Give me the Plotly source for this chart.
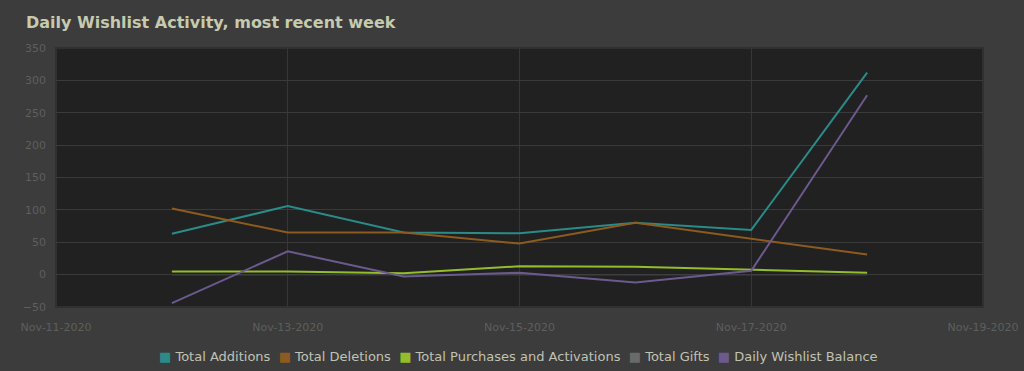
import plotly.graph_objects as go

dates = ["2020-11-12", "2020-11-13", "2020-11-14", "2020-11-15", "2020-11-16", "2020-11-17", "2020-11-18"]
additions = [63, 106, 65, 64, 80, 69, 312]
deletions = [102, 65, 65, 48, 80, 56, 31]
purchases = [5, 5, 2, 13, 12, 8, 3]
gifts = [0, 0, 0, 0, 0, 0, 0]
balance = [-44, 36, -3, 3, -12, 6, 277]

series = [
    ("Total Gifts", gifts, "#6a6a6a", "#3e3e3e", 1.5),
    ("Total Additions", additions, "#2a8b88", "#2a8b88", 2),
    ("Total Deletions", deletions, "#8d5a1f", "#8d5a1f", 2),
    ("Total Purchases and Activations", purchases, "#94bd2b", "#94bd2b", 2),
    ("Daily Wishlist Balance", balance, "#6c5a8e", "#6c5a8e", 2),
]
legend_order = ["Total Additions", "Total Deletions", "Total Purchases and Activations",
                "Total Gifts", "Daily Wishlist Balance"]

fig = go.Figure()
for name, vals, col, lcol, w in series:
    fig.add_trace(go.Scatter(x=dates, y=vals, mode="lines", name=name,
                             line=dict(color=lcol, width=w), showlegend=False))

colors = {name: col for name, vals, col, lcol, w in series}
legend_text = "  ".join(
    f'<span style="color:{colors[n]}">■</span> {n}' for n in legend_order
)
fig.add_annotation(text=legend_text, xref="paper", yref="paper",
                   x=0.499, y=-49/259, xanchor="center", yanchor="middle",
                   showarrow=False,
                   font=dict(family="DejaVu Sans", size=13, color="#c0c2b4"))

fig.add_shape(type="rect", xref="paper", yref="paper", x0=0, x1=1, y0=0, y1=1,
              line=dict(color="#303030", width=2), layer="below")

fig.update_layout(
    width=1024, height=371,
    paper_bgcolor="#3b3c3b", plot_bgcolor="#212121",
    margin=dict(l=56, r=41, t=48, b=64, autoexpand=False),
    title=dict(text="<b>Daily Wishlist Activity, most recent week</b>",
               x=26/1024, xanchor="left", y=1-22/371, yanchor="middle",
               font=dict(family="DejaVu Sans", size=16, color="#c6caaf")),
    font=dict(family="DejaVu Sans", color="#5e5f5e", size=11),
    showlegend=False,
)
fig.update_xaxes(type="date", range=["2020-11-11", "2020-11-19"],
                 dtick=2*86400000, tick0="2020-11-11", tickformat="%b-%d-%Y",
                 showgrid=True, gridcolor="#363636", gridwidth=1, automargin=False,
                 zeroline=False, showline=False, ticks="", ticklabelstandoff=12,
                 tickfont=dict(color="#5e5f5e", size=11))
fig.update_yaxes(range=[-50, 350], dtick=50, showgrid=True, gridcolor="#3a3a3a",
                 zeroline=False, showline=False, ticks="", ticklabelstandoff=9,
                 automargin=False,
                 tickfont=dict(color="#5e5f5e", size=11))

fig.write_html("out.html", config={"displayModeBar": False},
               post_script="document.body.style.margin='0';document.body.style.overflow='hidden';")
